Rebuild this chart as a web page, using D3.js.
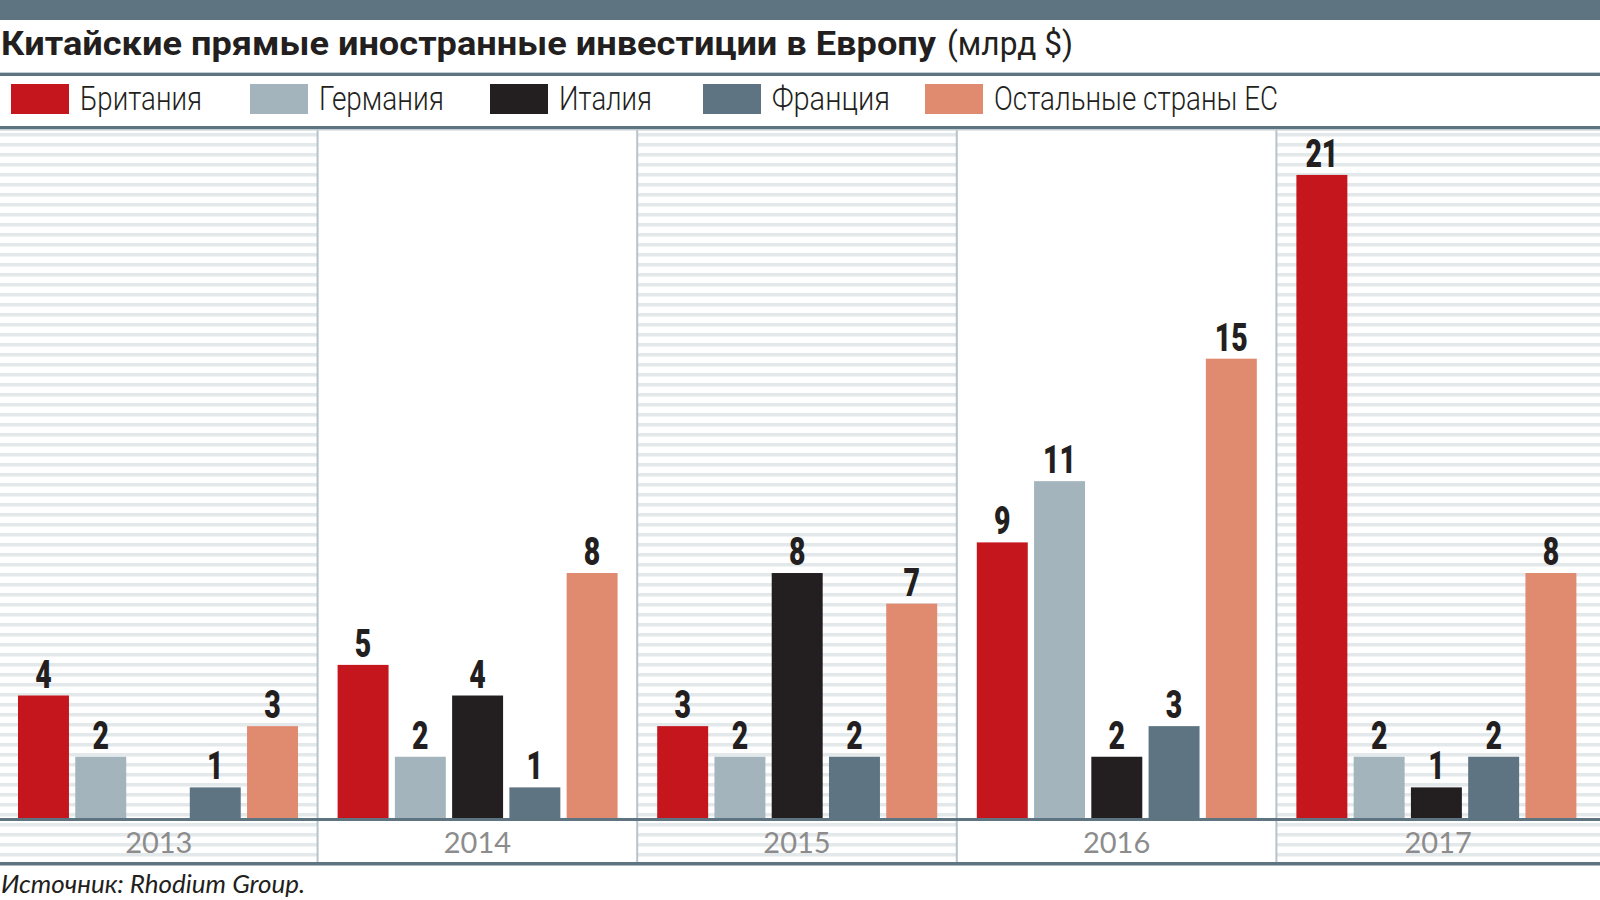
<!DOCTYPE html>
<html>
<head>
<meta charset="utf-8">
<script src="https://cdn.jsdelivr.net/npm/d3@7"></script>
<style>
  body { margin: 0; background: #fff; }
  svg { display: block; }
</style>
</head>
<body>
<svg id="chart"></svg>
<script>
// data (млрд $)
var years = ["2013", "2014", "2015", "2016", "2017"];
var countries = ["Британия", "Германия", "Италия", "Франция", "Остальные страны ЕС"];
var colors = ["#c4161c", "#a3b4bd", "#231f20", "#5e7482", "#e08a70"];
var britain = [4, 5, 3, 9, 21];
var germany = [2, 2, 2, 11, 2];
var italy = [null, 4, 8, 2, 1];
var france = [1, 1, 2, 3, 2];
var restEU = [3, 8, 7, 15, 8];

var series = [britain, germany, italy, france, restEU];

var W = 1600, H = 900;
var slate = "#5f7481";
var sans = "Roboto, 'Liberation Sans', sans-serif";

var svg = d3.select("#chart").attr("width", W).attr("height", H);

/*
  Scales
 */
var plotTop = 129, base = 818, axisBottom = 862;

var x0 = d3.scaleBand().domain(years).range([-2, 1596]);
var x1 = d3.scaleBand().domain(countries).range([20, 300]).paddingInner(0.11);
var y = d3.scaleLinear().domain([0, 22.5]).range([base, plotTop]);

// flat table: one row per bar
var rows = [];
years.forEach(function (yr, i) {
  countries.forEach(function (c, j) {
    rows.push({ year: yr, country: c, color: colors[j], value: series[j][i] });
  });
});

function panelStart(i) { return i === 0 ? 0 : x0(years[i]); }
function panelEnd(i) { return i === years.length - 1 ? W : x0(years[i]) + x0.bandwidth(); }

/*
  Striped panels (2013, 2015, 2017)
 */
var stripes = d3.range(133, axisBottom, 10);
years.forEach(function (yr, i) {
  if (i % 2 !== 0) return;
  svg.append("g").selectAll("rect").data(stripes).enter().append("rect")
    .attr("x", panelStart(i)).attr("width", panelEnd(i) - panelStart(i))
    .attr("y", function (d) { return d; }).attr("height", 3.5)
    .attr("fill", "#e3e8eb");
});

// panel dividers
svg.append("g").selectAll("line").data(years.slice(1)).enter().append("line")
  .attr("x1", function (d) { return x0(d); }).attr("x2", function (d) { return x0(d); })
  .attr("y1", plotTop).attr("y2", axisBottom)
  .attr("stroke", "#b7c4cb").attr("stroke-width", 2);

/*
  Bars and value labels
 */
var bars = rows.filter(function (d) { return d.value != null; });

svg.append("g").selectAll("rect").data(bars).enter().append("rect")
  .attr("x", function (d) { return x0(d.year) + x1(d.country); })
  .attr("width", x1.bandwidth())
  .attr("y", function (d) { return y(d.value); })
  .attr("height", function (d) { return base - y(d.value); })
  .attr("fill", function (d) { return d.color; });

svg.append("g").selectAll("text").data(bars).enter().append("text")
  .attr("x", function (d) { return x0(d.year) + x1(d.country) + x1.bandwidth() / 2; })
  .attr("y", function (d) { return y(d.value) - 8; })
  .attr("text-anchor", "middle")
  .attr("font-family", sans).attr("font-weight", 900).attr("font-size", 38)
  .attr("textLength", function (d) { return String(d.value).length * 16.5; })
  .attr("lengthAdjust", "spacingAndGlyphs")
  .attr("fill", "#231f20")
  .text(function (d) { return d.value; });

// year labels
svg.append("g").selectAll("text").data(years).enter().append("text")
  .attr("x", function (d, i) { return (panelStart(i) + panelEnd(i)) / 2; })
  .attr("y", 853)
  .attr("text-anchor", "middle")
  .attr("font-family", "Lato, 'Open Sans', sans-serif").attr("font-size", 29)
  .attr("fill", "#8c8c8c")
  .text(function (d) { return d; });

/*
  Rules
 */
function hline(yy, h, color) {
  svg.append("rect").attr("x", 0).attr("y", yy).attr("width", W).attr("height", h).attr("fill", color);
}
hline(0, 20, slate);
hline(72, 1, "#c3ced4");
hline(73, 3, slate);
hline(126, 3, slate);
hline(129, 1.5, "#c3ced4");
hline(818, 3, slate);
hline(862, 3.5, slate);

/*
  Title
 */
svg.append("text").attr("x", 1).attr("y", 55)
  .attr("font-family", sans).attr("font-size", 34).attr("font-weight", "bold")
  .attr("textLength", 935).attr("lengthAdjust", "spacingAndGlyphs")
  .attr("fill", "#231f20")
  .text("Китайские прямые иностранные инвестиции в Европу");
svg.append("text").attr("x", 947).attr("y", 55)
  .attr("font-family", sans).attr("font-size", 34).attr("font-weight", "normal")
  .attr("textLength", 126).attr("lengthAdjust", "spacingAndGlyphs")
  .attr("fill", "#231f20")
  .text("(млрд $)");

/*
  Legend
 */
var legendX = [11, 250, 490, 703, 925];
var legendW = [122, 125, 93, 118, 284];
countries.forEach(function (c, j) {
  svg.append("rect").attr("x", legendX[j]).attr("y", 84).attr("width", 58).attr("height", 30)
    .attr("fill", colors[j]);
  svg.append("text").attr("x", legendX[j] + 69).attr("y", 110)
    .attr("font-family", sans).attr("font-weight", 300).attr("font-size", 33)
    .attr("textLength", legendW[j]).attr("lengthAdjust", "spacingAndGlyphs")
    .attr("fill", "#231f20")
    .text(c);
});

// source
svg.append("text").attr("x", 1).attr("y", 893)
  .attr("font-family", "Lato, 'Open Sans', sans-serif").attr("font-style", "italic")
  .attr("font-size", 26).attr("fill", "#231f20")
  .text("Источник: Rhodium Group.");
</script>
</body>
</html>
